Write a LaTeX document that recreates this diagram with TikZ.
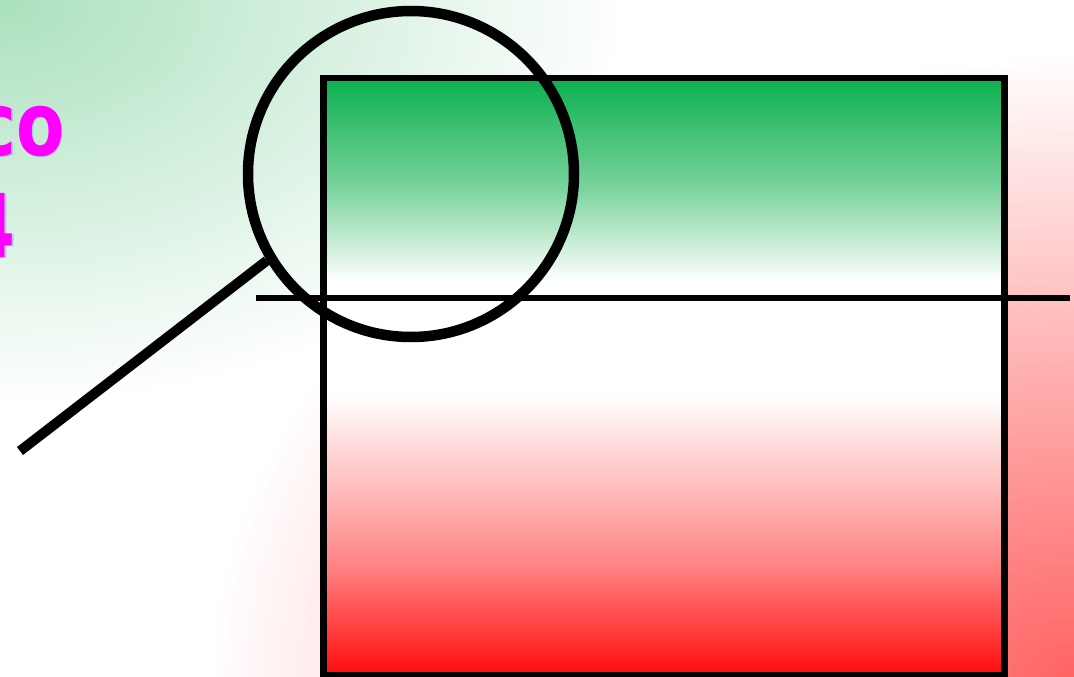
\documentclass[tikz,border=0pt]{standalone}
\usepackage{graphicx}
\usepackage{fontspec}
\newfontfamily\labelfont{DejaVu Sans}
\usetikzlibrary{fadings}
\definecolor{topgreen}{RGB}{12,176,80}
\definecolor{midgreen}{RGB}{120,210,155}
\definecolor{botred}{RGB}{255,10,10}
\definecolor{midred}{RGB}{255,130,130}
\definecolor{bggreen}{RGB}{170,225,190}
\definecolor{bgred}{RGB}{255,100,100}
\definecolor{textmag}{RGB}{255,0,255}
\definecolor{glow}{RGB}{150,160,230}
\pgfdeclareverticalshading{flag}{100bp}{%
  color(0bp)=(botred); color(25bp)=(botred); color(34bp)=(midred);
  color(48.5bp)=(white); color(58bp)=(white); color(66bp)=(midgreen);
  color(75bp)=(topgreen); color(100bp)=(topgreen)}
\tikzfading[name=softfade, inner color=transparent!0, outer color=transparent!100]
\tikzset{
  frame/.style={draw=black, line width=6.5pt},
  lens/.style={draw=black, line width=10.5pt},
  bigtext/.style={text=textmag, font=\labelfont\bfseries\fontsize{88}{88}\selectfont, inner sep=0pt},
  glowtext/.style={bigtext, text=glow, opacity=0.5},
}
\newcommand{\narrow}[1]{\scalebox{0.8}[1]{#1}}
\begin{document}
\begin{tikzpicture}[x=1pt,y=-1pt]
\useasboundingbox (0,0) rectangle (1074,677);
\fill[white] (0,0) rectangle (1074,677);
\begin{scope}
\clip (0,0) rectangle (1074,677);
\fill[bggreen, path fading=softfade] (0,0) ellipse [x radius=620, y radius=400];
\fill[bgred, path fading=softfade] (1074,677) ellipse [x radius=860, y radius=620];
\end{scope}
% text
\node[glowtext, anchor=base east] (coglow) at (66.5,156.5) {\narrow{co}};
\node[glowtext, anchor=base east] (fourglow) at (17.5,258.5) {\narrow{4}};
\node[bigtext, anchor=base east] (co) at (65,155) {\narrow{co}};
\node[bigtext, anchor=base east] (four) at (16,257) {\narrow{4}};
% flag rectangle
\node[frame, shading=flag, minimum width=681pt, minimum height=597pt, inner sep=0pt, anchor=north west] (box) at (320,75) {};
% horizontal line
\coordinate (hl) at (256,298);
\coordinate (hr) at (1070,298);
\draw[line width=6.5pt] (hl) -- (hr);
% magnifier
\node[lens, circle, minimum size=326pt, inner sep=0pt] (glass) at (411,174) {};
\coordinate (hend) at (20,451);
\draw[line width=10pt] (glass.211) -- (hend);
\end{tikzpicture}
\end{document}
